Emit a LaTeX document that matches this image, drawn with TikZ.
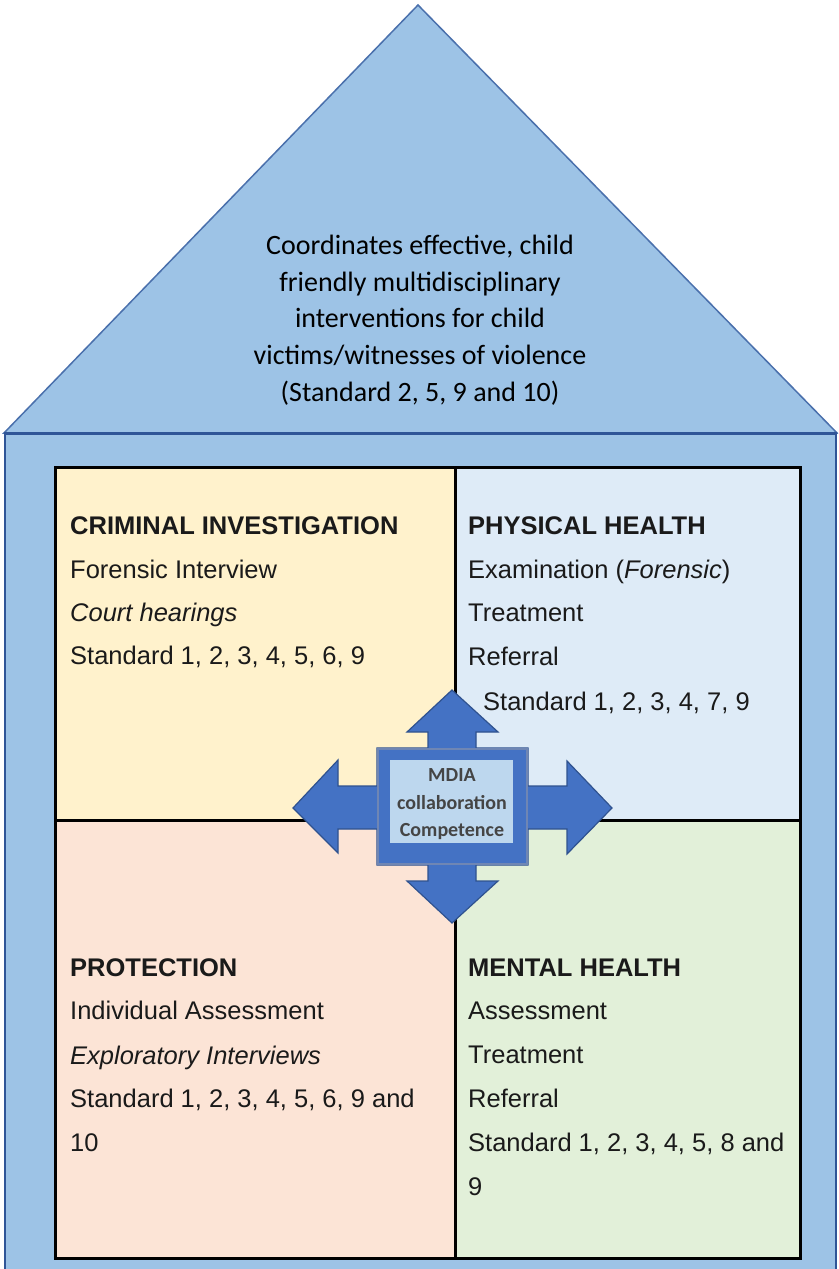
\documentclass[tikz,border=0pt]{standalone}
\usepackage{fontspec}
\setmainfont{Liberation Sans}
\newfontfamily\roofont{Carlito}
\definecolor{housefill}{HTML}{9DC3E6}
\definecolor{houseline}{HTML}{2F5597}
\definecolor{roofline}{HTML}{4A70AC}
\definecolor{qtl}{HTML}{FFF2CC}
\definecolor{qtr}{HTML}{DEEBF7}
\definecolor{qbl}{HTML}{FCE4D6}
\definecolor{qbr}{HTML}{E2F0D9}
\definecolor{arrowfill}{HTML}{4472C4}
\definecolor{arrowline}{HTML}{2F528F}
\definecolor{sqline}{HTML}{6F86B4}
\definecolor{innerbox}{HTML}{BDD7EE}
\definecolor{bodytext}{HTML}{1A1A1A}
\definecolor{smalltext}{HTML}{454545}
\tikzset{
  quad/.style={draw=black, line width=3pt},
  ln/.style={anchor=base west, inner sep=0pt, text=bodytext, font=\fontsize{25.5}{30}\selectfont},
  rl/.style={anchor=base, inner sep=0pt, text=black, font=\roofont\fontsize{28}{32}\selectfont},
  sm/.style={anchor=base, inner sep=0pt, text=smalltext, font=\roofont\bfseries\fontsize{20}{22}\selectfont},
}
\begin{document}
\begin{tikzpicture}[x=1pt,y=-1pt]
\useasboundingbox (0,0) rectangle (838,1269);
\clip (0,0) rectangle (838,1269);
% house body
\fill[housefill] (4,433) rectangle (837,1290);
\draw[houseline, line width=2pt] (5,433) -- (5,1290);
\draw[houseline, line width=2pt] (836,433) -- (836,1290);
% roof
\filldraw[fill=housefill, draw=roofline, line width=1.5pt] (4,433) -- (418,5) -- (837,433) -- cycle;
\draw[houseline, line width=3pt] (4,433) -- (837,433);
% roof text
\node[rl] (r1) at (420,254) {Coordinates effective, child};
\node[rl] (r2) at (420,291) {friendly multidisciplinary};
\node[rl] (r3) at (420,327) {interventions for child};
\node[rl] (r4) at (420,364) {victims/witnesses of violence};
\node[rl] (r5) at (420,401) {(Standard 2, 5, 9 and 10)};
% quadrants
\fill[qtl] (55,467) rectangle (455,820);
\fill[qtr] (455,467) rectangle (800,820);
\fill[qbl] (55,820) rectangle (455,1258);
\fill[qbr] (455,820) rectangle (800,1258);
\draw[quad] (55,467) rectangle (800,1258);
\draw[quad] (455,467) -- (455,1258);
\draw[quad] (55,820) -- (800,820);
% texts top-left
\node[ln, font=\bfseries\fontsize{25.5}{30}\selectfont] (tl1) at (70,534) {CRIMINAL INVESTIGATION};
\node[ln] (tl2) at (70,578) {Forensic Interview};
\node[ln] (tl3) at (70,621) {\itshape Court hearings};
\node[ln] (tl4) at (70,664) {Standard 1, 2, 3, 4, 5, 6, 9};
% top-right
\node[ln, font=\bfseries\fontsize{25.5}{30}\selectfont] (tr1) at (468,534) {PHYSICAL HEALTH};
\node[ln] (tr2) at (468,578) {Examination (\textit{Forensic})};
\node[ln] (tr3) at (468,621) {Treatment};
\node[ln] (tr4) at (468,665) {Referral};
\node[ln] (tr5) at (483,710) {Standard 1, 2, 3, 4, 7, 9};
% bottom-left
\node[ln, font=\bfseries\fontsize{25.5}{30}\selectfont] (bl1) at (70,976) {PROTECTION};
\node[ln] (bl2) at (70,1019) {Individual Assessment};
\node[ln] (bl3) at (70,1064) {\itshape Exploratory Interviews};
\node[ln] (bl4) at (70,1107) {Standard 1, 2, 3, 4, 5, 6, 9 and};
\node[ln] (bl5) at (70,1151) {10};
% bottom-right
\node[ln, font=\bfseries\fontsize{25.5}{30}\selectfont] (br1) at (468,976) {MENTAL HEALTH};
\node[ln] (br2) at (468,1019) {Assessment};
\node[ln] (br3) at (468,1063) {Treatment};
\node[ln] (br4) at (468,1107) {Referral};
\node[ln] (br5) at (468,1151) {Standard 1, 2, 3, 4, 5, 8 and};
\node[ln] (br6) at (468,1195) {9};
% central quad arrow
\filldraw[fill=arrowfill, draw=arrowline, line width=1.2pt, line join=miter]
  (452,690) -- (498,732) -- (476,732) -- (476,748) -- (528,748) -- (528,786)
  -- (567,786) -- (567,761) -- (612,808) -- (567,854) -- (567,829) -- (528,829)
  -- (528,865) -- (476,865) -- (476,881) -- (498,881) -- (452,923) -- (407,881)
  -- (428,881) -- (428,865) -- (377,865) -- (377,829) -- (338,829) -- (338,853)
  -- (293,808) -- (338,760) -- (338,786) -- (377,786) -- (377,748) -- (428,748)
  -- (428,732) -- (407,732) -- cycle;
\draw[sqline, line width=1.5pt] (378,749) rectangle (527,864);
\fill[innerbox] (390,760) rectangle (513,843);
\node[sm] (m1) at (452,781) {MDIA};
\node[sm] (m2) at (452,809) {collaboration};
\node[sm] (m3) at (452,836) {Competence};
\end{tikzpicture}
\end{document}
